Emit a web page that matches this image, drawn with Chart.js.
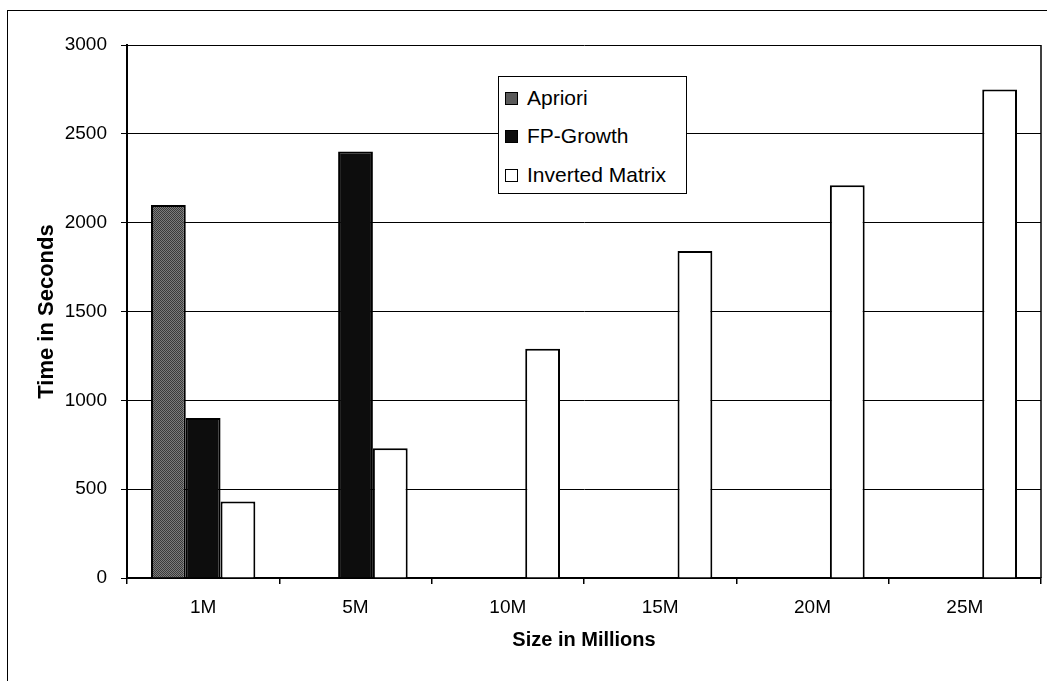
<!DOCTYPE html>
<html><head><meta charset="utf-8">
<script src="https://cdn.jsdelivr.net/npm/chart.js@4"></script>
<style>
html,body{margin:0;padding:0;background:#fff;}
#wrap{position:relative;width:1047px;height:681px;overflow:hidden;background:#fff;}
#frame{position:absolute;left:7px;top:10px;width:1100px;height:700px;border-left:1px solid #000;border-top:1px solid #000;}
canvas{position:absolute;left:0;top:0;}
#legend{position:absolute;left:498px;top:76px;width:189px;height:118px;border:1px solid #000;background:#fff;font-family:"Liberation Sans",Arial,sans-serif;font-size:21px;color:#000;box-sizing:border-box;}
.item{position:absolute;left:6px;height:26px;display:flex;align-items:center;white-space:nowrap;}
.sw{width:13px;height:13px;border:1.5px solid #000;margin-right:9px;box-sizing:border-box;}
</style></head>
<body>
<div id="wrap">
  <div id="frame"></div>
  <canvas id="c" width="1047" height="681"></canvas>
  <div id="legend"></div>
</div>
<script>
const categories = ['1M', '5M', '10M', '15M', '20M', '25M'];
const seriesNames = ['Apriori', 'FP-Growth', 'Inverted Matrix'];
const apriori = [2100, null, null, null, null, null];
const fpGrowth = [900, 2400, null, null, null, null];
const invertedMatrix = [430, 730, 1290, 1840, 2210, 2750];
const yTickValues = [0, 500, 1000, 1500, 2000, 2500, 3000];
const xTitle = 'Size in Millions';
const yTitle = 'Time in Seconds';

const FONT = '"Liberation Sans", Arial, sans-serif';

function ditherPattern() {
  const c = document.createElement('canvas');
  c.width = 4; c.height = 4;
  const g = c.getContext('2d');
  g.fillStyle = '#7c7c7c'; g.fillRect(0, 0, 4, 4);
  g.fillStyle = '#3a3a3a';
  for (let y = 0; y < 4; y++) for (let x = 0; x < 4; x++) if ((x + y) % 2 === 0) g.fillRect(x, y, 1, 1);
  return g.createPattern(c, 'repeat');
}

const fills = [ditherPattern(), '#0d0d0d', '#ffffff'];
const swatchCss = ['#5a5a5a', '#0d0d0d', '#ffffff'];
const seriesData = [apriori, fpGrowth, invertedMatrix];

const datasets = seriesNames.map((name, i) => ({
  label: name,
  data: seriesData[i],
  backgroundColor: fills[i],
  borderColor: '#000',
  borderWidth: 2,
  borderSkipped: 'start',
  barPercentage: 1.0,
  categoryPercentage: 0.685
}));

const plotFrame = {
  id: 'plotFrame',
  afterDraw(chart) {
    const { ctx, chartArea: a } = chart;
    ctx.save();
    ctx.strokeStyle = '#000';
    ctx.lineWidth = 1.5;
    ctx.beginPath();
    ctx.moveTo(a.right, a.top);
    ctx.lineTo(a.right, a.bottom);
    ctx.stroke();
    ctx.restore();
  }
};

const chart = new Chart(document.getElementById('c'), {
  type: 'bar',
  data: { labels: categories, datasets },
  plugins: [plotFrame],
  options: {
    responsive: false,
    animation: false,
    layout: { padding: { left: 0, top: 45, right: 6, bottom: 0 } },
    plugins: { legend: { display: false }, tooltip: { enabled: false } },
    scales: {
      x: {
        grid: { display: true, drawOnChartArea: false, drawTicks: true, tickLength: 6, color: '#000', lineWidth: 1.5, offset: true },
        border: { display: true, color: '#000', width: 2 },
        ticks: { color: '#000', font: { family: FONT, size: 19 }, padding: 12, maxRotation: 0 },
        title: { display: true, text: xTitle, color: '#000', font: { family: FONT, size: 20, weight: 'bold' }, padding: { top: 0, bottom: 29 } },
        afterFit: s => { s.height = 103; }
      },
      y: {
        min: 0, max: 3000,
        afterBuildTicks: axis => { axis.ticks = yTickValues.map(v => ({ value: v })); },
        grid: { color: '#000', lineWidth: 1, tickLength: 6, drawTicks: true },
        border: { display: true, color: '#000', width: 2 },
        ticks: { color: '#000', font: { family: FONT, size: 19 }, padding: 14, callback: v => String(v) },
        title: { display: true, text: yTitle, color: '#000', font: { family: FONT, size: 22, weight: 'bold' }, padding: { top: 34, bottom: 0 } },
        afterFit: s => { s.width = 127; }
      }
    }
  }
});

const leg = document.getElementById('legend');
const rowTops = [8, 46, 85];
chart.data.datasets.forEach((ds, i) => {
  const it = document.createElement('div');
  it.className = 'item';
  it.style.top = rowTops[i] + 'px';
  const sw = document.createElement('span');
  sw.className = 'sw';
  sw.style.background = swatchCss[i];
  const tx = document.createElement('span');
  tx.textContent = ds.label;
  it.appendChild(sw); it.appendChild(tx);
  leg.appendChild(it);
});
</script>
</body></html>
